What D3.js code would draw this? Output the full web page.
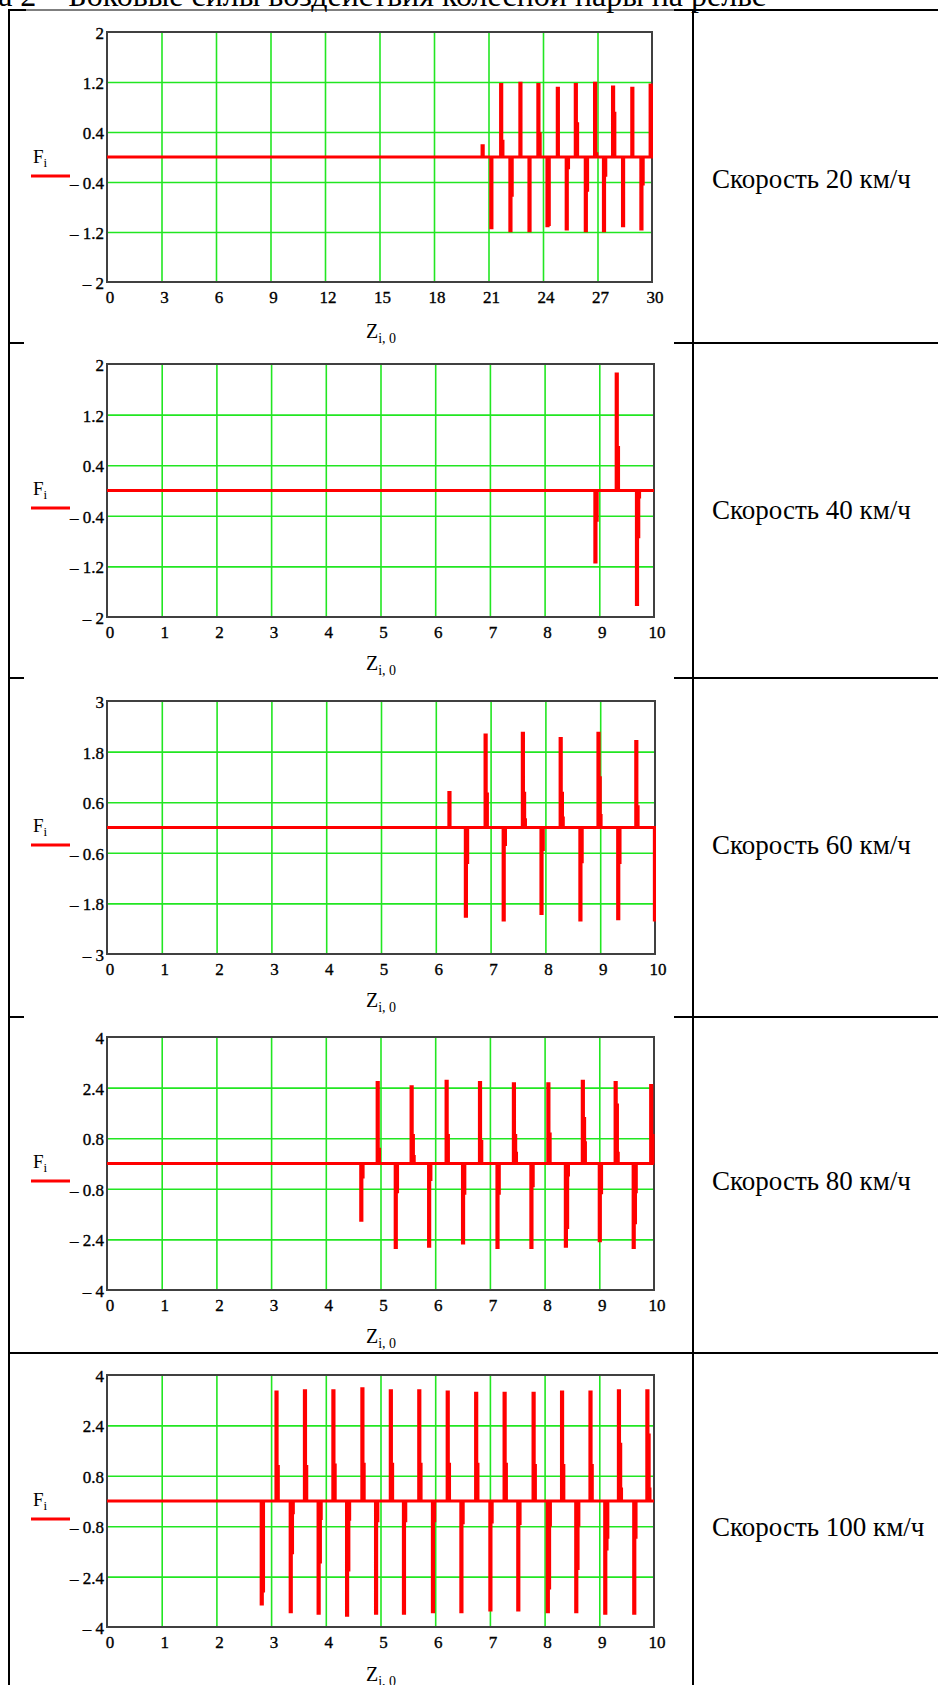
<!DOCTYPE html>
<html>
<head>
<meta charset="utf-8">
<script src="https://cdn.jsdelivr.net/npm/d3@7"></script>
<style>
  body { margin: 0; background: #fff; }
  svg { display: block; }
  text { font-family: "Liberation Serif", "Times New Roman", serif; fill: #000; }
  text.tick { stroke: #000; stroke-width: 0.35px; }
</style>
</head>
<body>
<div id="chart"></div>
<script>
// panel labels (right column) and axis ranges
var speeds = [20, 40, 60, 80, 100];
var xTicks30 = [0, 3, 6, 9, 12, 15, 18, 21, 24, 27, 30];
var xTicks10 = [0, 1, 2, 3, 4, 5, 6, 7, 8, 9, 10];
var yTicks2 = [-2, -1.2, -0.4, 0.4, 1.2, 2];
var yTicks3 = [-3, -1.8, -0.6, 0.6, 1.8, 3];
var yTicks4 = [-4, -2.4, -0.8, 0.8, 2.4, 4];

// spikes of F_i: [z, peak, shoulder, second shoulder]
var spikes20 = [
  [20.65, 0.18], [21.13, -1.13], [21.67, 1.16, 0.25], [22.18, -1.18, -0.61],
  [22.73, 1.18], [23.23, -1.18], [23.72, 1.16, 0.37], [24.22, -1.10, -1.08],
  [24.79, 1.10], [25.28, -1.15, -0.17], [25.78, 1.16, 0.53], [26.33, -1.18, -0.53],
  [26.84, 1.18, 0.05], [27.33, -1.18, -0.29], [27.83, 1.12, 0.70], [28.38, -1.10],
  [28.89, 1.10], [29.39, -1.15, -0.43], [29.90, 1.15, 1.12]
];
var spikes40 = [
  [8.92, -1.13, -0.47], [9.31, 1.84, 0.68], [9.68, -1.80, -0.73, -0.10]
];
var spikes60 = [
  [6.24, 0.83], [6.54, -2.10, -0.83], [6.90, 2.19, 0.79], [7.23, -2.19, -0.40],
  [7.58, 2.23, 0.81, 0.18], [7.92, -2.04, -0.52], [8.27, 2.11, 0.81, 0.22],
  [8.63, -2.19, -0.81], [8.96, 2.23, 1.18, 0.28], [9.32, -2.16, -0.83],
  [9.65, 2.04, 0.49], [9.99, -2.19]
];
var spikes80 = [
  [4.64, -1.79, -0.42], [4.94, 2.56, 0.45], [5.27, -2.65, -0.89], [5.56, 2.42, 0.88, 0.22],
  [5.88, -2.61, -0.50], [6.20, 2.60, 0.88], [6.50, -2.51, -0.94], [6.81, 2.56, 0.69],
  [7.13, -2.65, -0.94], [7.43, 2.52, 0.88, 0.32], [7.75, -2.65, -0.70], [8.06, 2.52, 0.93],
  [8.38, -2.61, -2.02, -0.36], [8.69, 2.60, 1.42, 0.65], [9.00, -2.44, -0.92],
  [9.29, 2.56, 1.85, 0.32], [9.62, -2.65, -1.87, -0.89], [9.94, 2.46, 0.88]
];
var spikes100 = [
  [2.82, -3.27, -2.85], [3.09, 3.46, 1.09], [3.35, -3.51, -1.64, -0.37], [3.61, 3.50, 1.09],
  [3.86, -3.56, -1.93, -0.55], [4.13, 3.50, 1.14], [4.38, -3.62, -2.19, -0.58], [4.66, 3.56, 1.16],
  [4.91, -3.56, -0.62], [5.18, 3.50, 1.16], [5.42, -3.56, -0.62], [5.70, 3.50, 1.16],
  [5.95, -3.51, -0.62], [6.22, 3.46, 1.16], [6.47, -3.51, -0.69], [6.74, 3.42, 1.16],
  [7.00, -3.46, -0.66], [7.26, 3.42, 1.16], [7.51, -3.46, -0.71], [7.79, 3.42, 1.12],
  [8.05, -3.51, -2.76, -0.76], [8.31, 3.46, 1.12], [8.57, -3.51, -2.14, -0.76], [8.83, 3.46, 1.12],
  [9.10, -3.56, -1.52, -1.15], [9.35, 3.50, 1.80, 0.38], [9.63, -3.56, -1.15], [9.87, 3.50, 2.09, 0.38]
];

var panels = [
  {speed: speeds[0], xTicks: xTicks30, yTicks: yTicks2, spikes: spikes20, top: 32, bottom: 282, right: 652},
  {speed: speeds[1], xTicks: xTicks10, yTicks: yTicks2, spikes: spikes40, top: 364, bottom: 617, right: 654},
  {speed: speeds[2], xTicks: xTicks10, yTicks: yTicks3, spikes: spikes60, top: 701, bottom: 954, right: 655},
  {speed: speeds[3], xTicks: xTicks10, yTicks: yTicks4, spikes: spikes80, top: 1037, bottom: 1290, right: 654},
  {speed: speeds[4], xTicks: xTicks10, yTicks: yTicks4, spikes: spikes100, top: 1375, bottom: 1627, right: 654}
];

var width = 938, height = 1685;
var plotLeft = 107;
var rowLines = [10, 343, 678, 1017, 1353];
var textY = [179, 510, 845, 1181, 1527];
var tableLeft = 9, colX = 693;

var svg = d3.select('#chart').append('svg')
  .attr('width', width)
  .attr('height', height)
  .style('background', '#fff');

// caption, cut by the top edge as in the source page
svg.append('text')
  .attr('x', 766).attr('y', 6)
  .attr('text-anchor', 'end')
  .style('font-size', '32px')
  .text('Таблица 2 – Боковые силы воздействия колесной пары на рельс');

// table rules
var rules = svg.append('g').attr('stroke', '#000');
rules.append('line').attr('x1', tableLeft).attr('x2', tableLeft).attr('y1', 9).attr('y2', height).attr('stroke-width', 2);
rules.append('line').attr('x1', colX).attr('x2', colX).attr('y1', 9).attr('y2', height).attr('stroke-width', 2);
rules.append('line').attr('x1', tableLeft).attr('x2', width).attr('y1', 10).attr('y2', 10).attr('stroke-width', 1.2);
rowLines.forEach(function (y, i) {
  if (i === 0 || i === 4) {
    rules.append('line').attr('x1', tableLeft).attr('x2', i === 0 ? 26 : width).attr('y1', y).attr('y2', y).attr('stroke-width', 2);
  } else {
    rules.append('line').attr('x1', tableLeft).attr('x2', 24).attr('y1', y).attr('y2', y).attr('stroke-width', 2);
  }
  rules.append('line').attr('x1', 674).attr('x2', width).attr('y1', y).attr('y2', y).attr('stroke-width', 2);
});

svg.selectAll('text.speed').data(panels)
  .enter().append('text')
  .attr('class', 'speed')
  .attr('x', 712)
  .attr('y', function (d, i) { return textY[i] + 9; })
  .style('font-size', '27px')
  .text(function (d) { return 'Скорость ' + d.speed + ' км/ч'; });

function fmt(v) {
  var s = String(Math.abs(v));
  return v < 0 ? '\u2013 ' + s : s;
}

panels.forEach(function (p, idx) {
  var xMax = p.xTicks[p.xTicks.length - 1];
  var yMax = p.yTicks[p.yTicks.length - 1];
  var x = d3.scaleLinear().domain([0, xMax]).range([plotLeft, p.right]);
  var y = d3.scaleLinear().domain([-yMax, yMax]).range([p.bottom, p.top]);
  var g = svg.append('g');
  var h = p.bottom - p.top, w = p.right - plotLeft;

  // grid
  var gx = g.append('g').attr('transform', 'translate(0,' + p.bottom + ')')
    .call(d3.axisBottom(x).tickValues(p.xTicks.slice(1, -1)).tickSize(-h).tickFormat(''));
  var gy = g.append('g').attr('transform', 'translate(' + plotLeft + ',0)')
    .call(d3.axisLeft(y).tickValues(p.yTicks.slice(1, -1)).tickSize(-w).tickFormat(''));
  [gx, gy].forEach(function (a) {
    a.select('.domain').remove();
    a.selectAll('line').attr('stroke', '#22e622').attr('stroke-width', 1.6);
  });

  // frame
  g.append('rect')
    .attr('x', plotLeft).attr('y', p.top)
    .attr('width', w).attr('height', h)
    .attr('fill', 'none').attr('stroke', '#404040').attr('stroke-width', 2);

  // trace: each spike is a thin rise to the peak with a short shoulder on its way back
  var pts = [[x(0), y(0)]];
  p.spikes.forEach(function (s) {
    var px = x(s[0]);
    var sh1 = s.length > 2 ? s[2] : 0;
    var sh2 = s.length > 3 ? s[3] : 0;
    pts.push([px, y(0)], [px, y(s[1])], [px + 1, y(s[1])], [px + 1, y(sh1)],
             [px + 2.2, y(sh1)], [px + 2.2, y(sh2)], [px + 3, y(sh2)], [px + 3, y(0)]);
  });
  pts.push([x(xMax), y(0)]);

  var clipId = 'clip' + idx;
  g.append('clipPath').attr('id', clipId).append('rect')
    .attr('x', plotLeft).attr('y', p.top - 2).attr('width', w + 1).attr('height', h + 4);
  g.append('path')
    .datum(pts.filter(function (d) { return d[0] <= x(xMax) + 1; }))
    .attr('clip-path', 'url(#' + clipId + ')')
    .attr('d', d3.line())
    .attr('fill', 'none')
    .attr('stroke', '#ff0000')
    .attr('stroke-width', 3.2)
    .attr('stroke-linejoin', 'miter');

  // tick labels
  g.selectAll('text.xl').data(p.xTicks).enter().append('text')
    .attr('class', 'tick')
    .attr('x', function (d) { return x(d) + 3; })
    .attr('y', p.bottom + 21)
    .attr('text-anchor', 'middle')
    .style('font-size', '17px')
    .text(function (d) { return d; });
  g.selectAll('text.yl').data(p.yTicks).enter().append('text')
    .attr('class', 'tick')
    .attr('x', plotLeft - 3)
    .attr('y', function (d) { return y(d) + 7; })
    .attr('text-anchor', 'end')
    .style('font-size', '17px')
    .text(fmt);

  // axis titles
  var zt = g.append('text')
    .attr('x', 366)
    .attr('y', p.top + 306)
    .style('font-size', '20px');
  zt.append('tspan').text('Z');
  zt.append('tspan').attr('dy', 5).style('font-size', '14px').text('i, 0');

  var ft = g.append('text')
    .attr('x', 33)
    .attr('y', p.top + 131)
    .style('font-size', '19px');
  ft.append('tspan').text('F');
  ft.append('tspan').attr('dy', 4).style('font-size', '13px').text('i');
  g.append('line')
    .attr('x1', 31).attr('x2', 70)
    .attr('y1', p.top + 144).attr('y2', p.top + 144)
    .attr('stroke', '#ff0000').attr('stroke-width', 3);
});
</script>
</body>
</html>
